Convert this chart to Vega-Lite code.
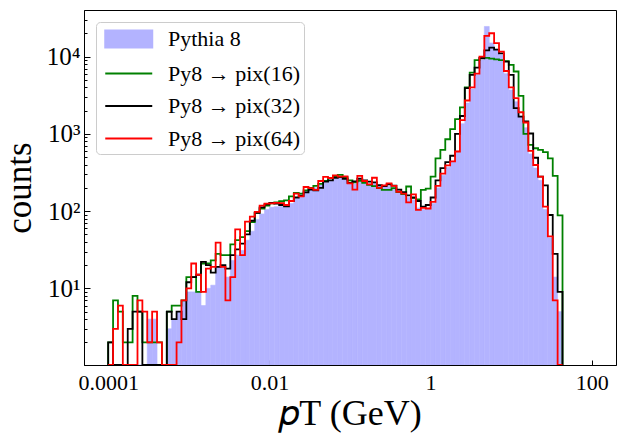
{
  "$schema": "https://vega.github.io/schema/vega-lite/v6.json",
  "width": 532,
  "height": 355,
  "autosize": {"type": "none"},
  "padding": {"left": 84, "top": 10, "right": 7, "bottom": 72},
  "background": "white",
  "config": {
    "view": {"stroke": "black", "strokeWidth": 1},
    "font": "Liberation Serif",
    "axis": {
      "grid": false, "domainColor": "black", "domainWidth": 1, "tickColor": "black", "tickWidth": 1,
      "labelColor": "black", "titleColor": "black", "labelFont": "Liberation Serif", "titleFont": "Liberation Serif",
      "titleFontWeight": "normal", "labelFlush": false, "labelOverlap": false, "labelBound": false, "zindex": 1
    }
  },
  "datasets": {
    "bins": [
      {"lo":0.0001,"g":0,"b":0,"r":0},
      {"lo":0.0001,"hi":0.00011498,"p":0,"g":2,"b":2,"r":0},
      {"lo":0.00011498,"hi":0.00013219,"p":0,"g":7,"b":0,"r":3},
      {"lo":0.00013219,"hi":0.00015199,"p":0,"g":5,"b":0,"r":6},
      {"lo":0.00015199,"hi":0.00017475,"p":0,"g":2,"b":0,"r":0},
      {"lo":0.00017475,"hi":0.00020092,"p":0,"g":2,"b":3,"r":0},
      {"lo":0.00020092,"hi":0.00023101,"p":0,"g":8,"b":5,"r":0},
      {"lo":0.00023101,"hi":0.00026561,"p":0,"g":5,"b":5,"r":7},
      {"lo":0.00026561,"hi":0.00030539,"p":0,"g":2,"b":0,"r":5},
      {"lo":0.00030539,"hi":0.00035112,"p":4,"g":2,"b":0,"r":2},
      {"lo":0.00035112,"hi":0.0004037,"p":4,"g":2,"b":0,"r":5},
      {"lo":0.0004037,"hi":0.00046416,"p":0,"g":2,"b":0,"r":2},
      {"lo":0.00046416,"hi":0.00053367,"p":0,"g":0,"b":0,"r":0},
      {"lo":0.00053367,"hi":0.00061359,"p":3,"g":5,"b":5,"r":0},
      {"lo":0.00061359,"hi":0.00070548,"p":4,"g":6,"b":4,"r":0},
      {"lo":0.00070548,"hi":0.00081113,"p":5,"g":6,"b":5,"r":2},
      {"lo":0.00081113,"hi":0.0009326,"p":7,"g":7,"b":4,"r":7},
      {"lo":0.0009326,"hi":0.0010723,"p":9,"g":14,"b":12,"r":10},
      {"lo":0.0010723,"hi":0.0012329,"p":9,"g":14,"b":14,"r":21},
      {"lo":0.0012329,"hi":0.0014175,"p":9,"g":9,"b":15,"r":15},
      {"lo":0.0014175,"hi":0.0016298,"p":6,"g":21,"b":22,"r":9},
      {"lo":0.0016298,"hi":0.0018738,"p":10,"g":21,"b":20,"r":18},
      {"lo":0.0018738,"hi":0.0021544,"p":11,"g":23,"b":16,"r":19},
      {"lo":0.0021544,"hi":0.0024771,"p":19,"g":28,"b":19,"r":39},
      {"lo":0.0024771,"hi":0.002848,"p":19,"g":27,"b":20,"r":19},
      {"lo":0.002848,"hi":0.0032746,"p":14,"g":27,"b":18,"r":7},
      {"lo":0.0032746,"hi":0.0037649,"p":23,"g":37,"b":27,"r":14},
      {"lo":0.0037649,"hi":0.0043288,"p":27,"g":42,"b":32,"r":58},
      {"lo":0.0043288,"hi":0.004977,"p":31,"g":46,"b":38,"r":27},
      {"lo":0.004977,"hi":0.0057224,"p":42,"g":55,"b":50,"r":73},
      {"lo":0.0057224,"hi":0.0065793,"p":55,"g":72,"b":75,"r":85},
      {"lo":0.0065793,"hi":0.0075646,"p":78,"g":95,"b":95,"r":98},
      {"lo":0.0075646,"hi":0.0086975,"p":92,"g":108,"b":112,"r":118},
      {"lo":0.0086975,"hi":0.01,"p":105,"g":118,"b":122,"r":125},
      {"lo":0.01,"hi":0.011498,"p":112,"g":126,"b":128,"r":126},
      {"lo":0.011498,"hi":0.013219,"p":114,"g":130,"b":125,"r":128},
      {"lo":0.013219,"hi":0.015199,"p":115,"g":134,"b":120,"r":127},
      {"lo":0.015199,"hi":0.017475,"p":118,"g":138,"b":115,"r":120},
      {"lo":0.017475,"hi":0.020092,"p":125,"g":155,"b":135,"r":135},
      {"lo":0.020092,"hi":0.023101,"p":145,"g":172,"b":150,"r":168},
      {"lo":0.023101,"hi":0.026561,"p":158,"g":168,"b":158,"r":155},
      {"lo":0.026561,"hi":0.030539,"p":185,"g":185,"b":175,"r":205},
      {"lo":0.030539,"hi":0.035112,"p":195,"g":200,"b":190,"r":198},
      {"lo":0.035112,"hi":0.04037,"p":200,"g":212,"b":186,"r":188},
      {"lo":0.04037,"hi":0.046416,"p":218,"g":225,"b":200,"r":245},
      {"lo":0.046416,"hi":0.053367,"p":235,"g":245,"b":240,"r":278},
      {"lo":0.053367,"hi":0.061359,"p":245,"g":268,"b":250,"r":268},
      {"lo":0.061359,"hi":0.070548,"p":262,"g":280,"b":270,"r":290},
      {"lo":0.070548,"hi":0.081113,"p":268,"g":295,"b":275,"r":280},
      {"lo":0.081113,"hi":0.09326,"p":262,"g":275,"b":262,"r":282},
      {"lo":0.09326,"hi":0.10723,"p":235,"g":250,"b":232,"r":228},
      {"lo":0.10723,"hi":0.12329,"p":225,"g":236,"b":242,"r":190},
      {"lo":0.12329,"hi":0.14175,"p":240,"g":246,"b":262,"r":285},
      {"lo":0.14175,"hi":0.16298,"p":230,"g":232,"b":250,"r":245},
      {"lo":0.16298,"hi":0.18738,"p":225,"g":218,"b":240,"r":222},
      {"lo":0.18738,"hi":0.21544,"p":230,"g":210,"b":236,"r":270},
      {"lo":0.21544,"hi":0.24771,"p":210,"g":198,"b":216,"r":200},
      {"lo":0.24771,"hi":0.2848,"p":205,"g":188,"b":210,"r":215},
      {"lo":0.2848,"hi":0.32746,"p":210,"g":188,"b":222,"r":228},
      {"lo":0.32746,"hi":0.37649,"p":200,"g":198,"b":214,"r":212},
      {"lo":0.37649,"hi":0.43288,"p":185,"g":176,"b":190,"r":178},
      {"lo":0.43288,"hi":0.4977,"p":170,"g":166,"b":176,"r":168},
      {"lo":0.4977,"hi":0.57224,"p":150,"g":208,"b":160,"r":130},
      {"lo":0.57224,"hi":0.65793,"p":140,"g":148,"b":150,"r":165},
      {"lo":0.65793,"hi":0.75646,"p":110,"g":142,"b":135,"r":104},
      {"lo":0.75646,"hi":0.86975,"p":105,"g":188,"b":114,"r":110},
      {"lo":0.86975,"hi":1,"p":108,"g":195,"b":120,"r":108},
      {"lo":1,"hi":1.1498,"p":125,"g":280,"b":150,"r":132},
      {"lo":1.1498,"hi":1.3219,"p":200,"g":480,"b":250,"r":212},
      {"lo":1.3219,"hi":1.5199,"p":290,"g":620,"b":360,"r":305},
      {"lo":1.5199,"hi":1.7475,"p":370,"g":850,"b":430,"r":390},
      {"lo":1.7475,"hi":2.0092,"p":440,"g":1150,"b":520,"r":440},
      {"lo":2.0092,"hi":2.3101,"p":600,"g":1550,"b":1000,"r":590},
      {"lo":2.3101,"hi":2.6561,"p":1350,"g":2200,"b":1700,"r":1500},
      {"lo":2.6561,"hi":3.0539,"p":2500,"g":4000,"b":3900,"r":2700},
      {"lo":3.0539,"hi":3.5112,"p":3800,"g":6200,"b":5800,"r":4000},
      {"lo":3.5112,"hi":4.037,"p":5800,"g":9000,"b":7200,"r":6000},
      {"lo":4.037,"hi":4.6416,"p":9000,"g":9600,"b":9500,"r":10000},
      {"lo":4.6416,"hi":5.3367,"p":24500,"g":9600,"b":12000,"r":18500},
      {"lo":5.3367,"hi":6.1359,"p":15000,"g":9400,"b":13000,"r":20000},
      {"lo":6.1359,"hi":7.0548,"p":12500,"g":9200,"b":12300,"r":14900},
      {"lo":7.0548,"hi":8.1113,"p":10500,"g":9000,"b":11000,"r":11600},
      {"lo":8.1113,"hi":9.326,"p":6000,"g":8700,"b":8600,"r":6500},
      {"lo":9.326,"hi":10.723,"p":3700,"g":7800,"b":5800,"r":4000},
      {"lo":10.723,"hi":12.329,"p":2600,"g":6400,"b":2150,"r":2900},
      {"lo":12.329,"hi":14.175,"p":1700,"g":3100,"b":1670,"r":1900},
      {"lo":14.175,"hi":16.298,"p":1200,"g":1000,"b":1450,"r":1400},
      {"lo":16.298,"hi":18.738,"p":550,"g":720,"b":1010,"r":600},
      {"lo":18.738,"hi":21.544,"p":360,"g":650,"b":490,"r":395},
      {"lo":21.544,"hi":24.771,"p":250,"g":620,"b":280,"r":280},
      {"lo":24.771,"hi":28.48,"p":105,"g":580,"b":215,"r":114},
      {"lo":28.48,"hi":32.746,"p":45,"g":480,"b":89,"r":47},
      {"lo":32.746,"hi":37.649,"p":14,"g":285,"b":28,"r":7},
      {"lo":37.649,"hi":43.288,"p":5,"g":88,"b":9,"r":0},
      {"lo":43.288,"g":0,"b":0,"r":0}
    ]
  },
  "data": {"name": "bins"},
  "layer": [
    {
      "transform": [{"filter": "isValid(datum.p)"}],
      "mark": {"type": "rect", "clip": true, "stroke": "#b3b3ff", "strokeWidth": 0.6},
      "encoding": {
        "x": {
          "field": "lo", "type": "quantitative",
          "scale": {"type": "log", "domain": [0.000050119, 199.53], "nice": false},
          "axis": {
            "values": [0.0001, 0.01, 1, 100], "format": "~g", "tickSize": -5,
            "labelFontSize": 22, "labelPadding": 12,
            "title": "𝑝T (GeV)", "titleFontSize": 36, "titlePadding": 3
          }
        },
        "x2": {"field": "hi"},
        "y": {
          "field": "p", "type": "quantitative",
          "scale": {"type": "log", "domain": [1.02, 40000], "nice": false, "clamp": true},
          "axis": {
            "values": [2,3,4,5,6,7,8,9,10,20,30,40,50,60,70,80,90,100,200,300,400,500,600,700,800,900,1000,2000,3000,4000,5000,6000,7000,8000,9000,10000,20000,30000],
            "labelExpr": "datum.value == 10 ? '10¹' : datum.value == 100 ? '10²' : datum.value == 1000 ? '10³' : datum.value == 10000 ? '10⁴' : ''",
            "tickSize": -6,
            "tickDash": {"condition": {"test": "indexof([10,100,1000,10000], datum.value) < 0", "value": [3, 20]}, "value": [6, 0]},
            "labelFontSize": 25, "labelPadding": 10,
            "title": "counts", "titleFontSize": 35, "titlePadding": 9
          }
        },
        "y2": {"datum": 1.02},
        "color": {
          "datum": "p", "type": "nominal", "title": null,
          "scale": {"domain": ["p", "g", "b", "r"], "range": ["#b3b3ff", "#008000", "#000000", "#ff0000"]},
          "legend": {
            "title": null, "orient": "top-left", "offset": 12, "padding": 4, "symbolOffset": 4,
            "labelFont": "Liberation Serif", "labelFontSize": 22, "labelColor": "black",
            "symbolSize": 552, "symbolStrokeWidth": 2, "labelOffset": 38, "rowPadding": 8.5,
            "fillColor": "rgba(255,255,255,0.8)", "strokeColor": "#cccccc", "cornerRadius": 4,
            "labelExpr": "datum.label == 'p' ? 'Pythia 8' : datum.label == 'g' ? 'Py8 → pix(16)' : datum.label == 'b' ? 'Py8 → pix(32)' : 'Py8 → pix(64)'",
            "encode": {
              "symbols": {
                "update": {
                  "shape": {"signal": "datum.value === 'p' ? 'M-1,-0.72H3V0.72H-1Z' : 'M-1,0H3'"},
                  "fill": {"signal": "datum.value === 'p' ? '#b3b3ff' : 'transparent'"},
                  "stroke": {"signal": "datum.value === 'p' ? 'transparent' : scale('color', datum.value)"},
                  "strokeWidth": {"value": 2},
                  "opacity": {"value": 1}
                }
              }
            }
          }
        }
      }
    },
    {
      "transform": [{"fold": ["g", "b", "r"], "as": ["key", "n"]}],
      "mark": {"type": "line", "interpolate": "step-after", "clip": true, "strokeWidth": 1.8},
      "encoding": {
        "x": {"field": "lo", "type": "quantitative"},
        "y": {"field": "n", "type": "quantitative"},
        "color": {
          "field": "key", "type": "nominal", "title": null,
          "legend": {
            "title": null, "orient": "top-left", "offset": 12, "padding": 4, "symbolOffset": 4,
            "labelFont": "Liberation Serif", "labelFontSize": 22, "labelColor": "black",
            "symbolSize": 552, "symbolStrokeWidth": 2, "labelOffset": 38, "rowPadding": 8.5,
            "fillColor": "rgba(255,255,255,0.8)", "strokeColor": "#cccccc", "cornerRadius": 4,
            "labelExpr": "datum.label == 'p' ? 'Pythia 8' : datum.label == 'g' ? 'Py8 → pix(16)' : datum.label == 'b' ? 'Py8 → pix(32)' : 'Py8 → pix(64)'",
            "encode": {
              "symbols": {
                "update": {
                  "shape": {"signal": "datum.value === 'p' ? 'M-1,-0.72H3V0.72H-1Z' : 'M-1,0H3'"},
                  "fill": {"signal": "datum.value === 'p' ? '#b3b3ff' : 'transparent'"},
                  "stroke": {"signal": "datum.value === 'p' ? 'transparent' : scale('color', datum.value)"},
                  "strokeWidth": {"value": 2},
                  "opacity": {"value": 1}
                }
              }
            }
          }
        }
      }
    }
  ]
}
